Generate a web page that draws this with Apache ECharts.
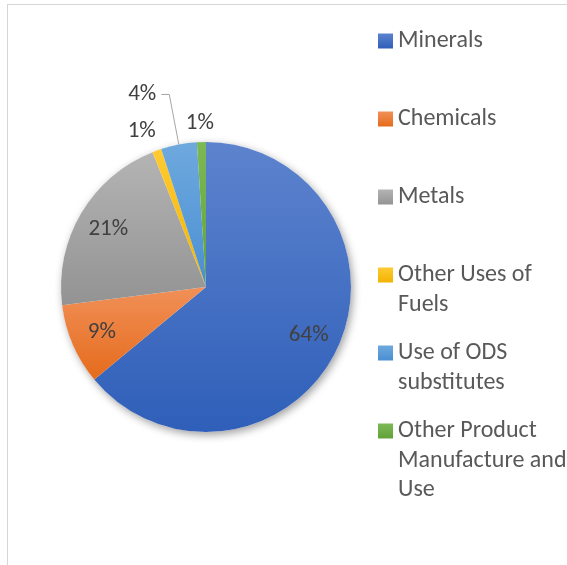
<!DOCTYPE html>
<html>
<head>
<meta charset="utf-8">
<script src="https://cdn.jsdelivr.net/npm/echarts@6/dist/echarts.min.js"></script>
<style>
  html, body { margin: 0; padding: 0; background: #ffffff; }
  #frame { position: absolute; left: 7px; top: 4px; width: 640px; height: 640px;
           border: 1px solid #d6d6d6; box-sizing: border-box; }
  #chart { position: absolute; left: 0; top: 0; width: 567px; height: 565px; }
</style>
</head>
<body>
<div id="frame"></div>
<div id="chart"></div>
<script>
// Industrial processes emissions by source category (share of total, %)
const categories = [
  'Minerals',
  'Chemicals',
  'Metals',
  'Other Uses of Fuels',
  'Use of ODS substitutes',
  'Other Product Manufacture and Use'
];
const shares = [64, 9, 21, 1, 4, 1];

// Legend wording, broken over lines
const legendLines = [
  ['Minerals'],
  ['Chemicals'],
  ['Metals'],
  ['Other Uses of', 'Fuels'],
  ['Use of ODS', 'substitutes'],
  ['Other Product', 'Manufacture and', 'Use']
];

// Slice fills: light top -> darker bottom
const sliceColors = [
  ['#5d83ce', '#2f5fb9'],
  ['#f19058', '#e56b1c'],
  ['#b4b4b4', '#939393'],
  ['#ffcb33', '#f2b300'],
  ['#6ea9de', '#4a8fd3'],
  ['#7cb955', '#62a23a']
];

const FONT = 'Carlito, Lato, "Open Sans", sans-serif';
const CENTER = [206, 287];
const RADIUS = 145;

function fill(i) {
  return new echarts.graphic.LinearGradient(0, 0, 0, 1, [
    { offset: 0, color: sliceColors[i][0] },
    { offset: 1, color: sliceColors[i][1] }
  ]);
}

// Small slices get their labels outside the pie
const outsideLabel = {
  'Other Uses of Fuels': { length: 21, length2: -11, line: false },
  'Use of ODS substitutes': { length: 51, length2: 8, line: true },
  'Other Product Manufacture and Use': { length: 19, length2: -18, line: false }
};

const pieData = categories.map((name, i) => {
  const o = outsideLabel[name];
  return {
    name: name,
    value: shares[i],
    itemStyle: { color: fill(i) },
    label: o ? { show: true, position: 'outside' } : { show: false },
    labelLine: o
      ? { show: o.line, length: o.length, length2: o.length2,
          lineStyle: { color: '#a6a6a6', width: 1 } }
      : { show: false }
  };
});

// Inner ring used only to carry the labels of the large slices
const labelRingData = categories.map((name, i) => ({
  name: name,
  value: shares[i],
  label: { show: !outsideLabel[name] }
}));

// One legend block per entry. The legend centres its text block on the
// icon, so blank lines are put ahead of wrapped entries to keep the icon
// level with the first line of text.
const LINE_H = 29.5;
const FIRST_ICON_CENTER = 41;
const ENTRY_STEP = 78;
const legends = categories.map((name, i) => {
  const n = legendLines[i].length;
  const iconCenter = FIRST_ICON_CENTER + ENTRY_STEP * i;
  const text = new Array(n - 1).fill('').concat(legendLines[i]).join('\n');
  return {
    data: [name],
    orient: 'vertical',
    left: 378,
    top: iconCenter - (2 * n - 1) * LINE_H / 2,
    padding: 0,
    itemWidth: 15,
    itemHeight: 15,
    itemGap: 0,
    selectedMode: false,
    icon: 'rect',
    formatter: () => text,
    textStyle: {
      fontFamily: FONT,
      fontSize: 24,
      color: '#595959',
      lineHeight: LINE_H
    }
  };
});

const chart = echarts.init(document.getElementById('chart'), null, { renderer: 'canvas' });
chart.setOption({
  animation: false,
  legend: legends,
  series: [
    {
      // soft drop shadow beneath the pie
      type: 'pie',
      name: 'backdrop',
      center: CENTER,
      radius: RADIUS,
      silent: true,
      z: 1,
      label: { show: false },
      labelLine: { show: false },
      emphasis: { disabled: true },
      itemStyle: {
        color: '#ffffff',
        shadowBlur: 9,
        shadowColor: 'rgba(0,0,0,0.38)',
        shadowOffsetX: 2,
        shadowOffsetY: 3
      },
      data: [{ name: 'backdrop', value: 1 }]
    },
    {
      type: 'pie',
      name: 'Share',
      center: CENTER,
      radius: RADIUS,
      startAngle: 90,
      clockwise: true,
      z: 2,
      avoidLabelOverlap: false,
      emphasis: { disabled: true },
      itemStyle: { borderWidth: 0 },
      label: {
        formatter: '{c}%',
        fontFamily: FONT,
        fontSize: 23,
        color: '#404040',
        distanceToLabelLine: 5
      },
      data: pieData
    },
    {
      type: 'pie',
      name: 'Share labels',
      center: CENTER,
      radius: [76, RADIUS],
      startAngle: 90,
      clockwise: true,
      z: 3,
      silent: true,
      emphasis: { disabled: true },
      itemStyle: { color: 'rgba(0,0,0,0)', borderWidth: 0 },
      labelLine: { show: false },
      label: {
        position: 'inside',
        formatter: '{c}%',
        fontFamily: FONT,
        fontSize: 23,
        color: '#404040'
      },
      data: labelRingData
    }
  ]
});
</script>
</body>
</html>
